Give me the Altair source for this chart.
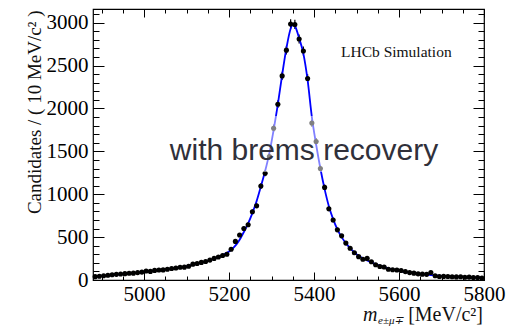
import altair as alt
import pandas as pd

# ---- data ----
bin_centers = list(range(4885, 5800, 10))
counts = [39, 44, 50, 56, 62, 66, 70, 74, 78, 80, 86, 92,
          105, 100, 112, 116, 118, 126, 134, 140, 148, 150,
          160, 185, 192, 205, 215, 232, 252, 268, 285, 300,
          358, 450, 525, 600, 645, 795, 865, 1095, 1245, 1440,
          1770, 2050, 2380, 2680, 2985, 2980, 2810, 2670, 2350, 1830,
          1615, 1300, 1080, 830, 700, 585, 515, 430, 370, 318,
          272, 242, 252, 213, 178, 158, 152, 125, 120, 117,
          110, 98, 86, 80, 72, 68, 66, 88, 50, 40,
          42, 40, 38, 36, 38, 32, 34, 30, 28, 22]

curve_m = [4885, 4905, 4925, 4945, 4965, 4985, 5005, 5025, 5045, 5065, 5085, 5105,
           5125, 5145, 5165, 5185, 5205, 5215, 5225, 5235, 5245, 5255, 5265, 5275,
           5285, 5295, 5305, 5315, 5325, 5335, 5345, 5350, 5355, 5365, 5375, 5385,
           5395, 5405, 5415, 5425, 5435, 5445, 5455, 5465, 5475, 5485, 5495, 5505,
           5525, 5545, 5565, 5585, 5605, 5625, 5645, 5665, 5685, 5705, 5725, 5745,
           5765, 5785, 5795]
curve_n = [40, 48, 57, 66, 76, 87, 99, 110, 120, 133, 147, 165,
           188, 215, 248, 290, 350, 400, 470, 560, 660, 780, 920, 1090,
           1270, 1480, 1750, 2050, 2390, 2700, 2930, 2975, 2960, 2820, 2640, 2330,
           1900, 1580, 1300, 1060, 860, 710, 590, 500, 430, 372, 322, 282,
           228, 185, 150, 122, 102, 86, 73, 62, 53, 46, 40, 35,
           31, 28, 26]

x_major = [5000, 5200, 5400, 5600, 5800]
x_minor = list(range(4900, 5801, 50))
y_major = [0, 500, 1000, 1500, 2000, 2500, 3000]
y_minor = list(range(0, 3101, 100))

X_DOMAIN = [4880, 5800]
Y_DOMAIN = [0, 3160]
W, H = 391, 271
SERIF = "Liberation Serif"

pts = pd.DataFrame({"m": bin_centers, "n": counts})
crv = pd.DataFrame({"m": curve_m, "n": curve_n})


def xs():
    return alt.Scale(domain=X_DOMAIN, nice=False, zero=False)


def ys():
    return alt.Scale(domain=Y_DOMAIN, nice=False)


main_x_axis = alt.Axis(values=x_major, format="d", labelFont=SERIF, labelFontSize=21,
                       labelColor="#000", tickSize=0, labelPadding=3, labelFlush=False,
                       domain=False, grid=False, title=None)
main_y_axis = alt.Axis(values=y_major, format="d", labelFont=SERIF, labelFontSize=21,
                       labelColor="#000", tickSize=0, labelPadding=5, domain=False,
                       grid=False, title="Candidates / ( 10 MeV/c² )", titleFont=SERIF,
                       titleFontSize=19, titleFontWeight="normal", titleColor="#111",
                       titleAngle=-90, titleAlign="right", titleBaseline="middle",
                       titleX=-59, titleY=1)

base = alt.Chart(pts).transform_calculate(
    lo="datum.n - sqrt(datum.n)", hi="datum.n + sqrt(datum.n)",
    ml="datum.m - 5", mh="datum.m + 5")

vbars = base.mark_rule(color="black", strokeWidth=1.2).encode(
    x=alt.X("m:Q", scale=xs(), axis=main_x_axis),
    y=alt.Y("lo:Q", scale=ys(), axis=main_y_axis),
    y2="hi:Q")
hbars = base.mark_rule(color="black", strokeWidth=1.2).encode(
    x=alt.X("ml:Q", scale=xs()), x2="mh:Q",
    y=alt.Y("n:Q", scale=ys()))
curve = alt.Chart(crv).mark_line(color="#0000ff", strokeWidth=1.8, interpolate="monotone").encode(
    x=alt.X("m:Q", scale=xs()), y=alt.Y("n:Q", scale=ys()))
dots = alt.Chart(pts).mark_circle(color="black", opacity=1, size=26).encode(
    x=alt.X("m:Q", scale=xs()), y=alt.Y("n:Q", scale=ys()))

veil = alt.Chart(pd.DataFrame({"a": [0]})).mark_rect(color="white", opacity=0.5).encode(
    x=alt.value(70), x2=alt.value(353), y=alt.value(107), y2=alt.value(163))

label_big = alt.Chart(pd.DataFrame({"t": ["with brems recovery"]})).mark_text(
    font="Liberation Sans", fontSize=30, color="#30303a", align="center",
    baseline="alphabetic").encode(text="t:N", x=alt.value(211), y=alt.value(151))

lhcb = alt.Chart(pd.DataFrame({"t": ["LHCb Simulation"]})).mark_text(
    font=SERIF, fontSize=15.5, color="#111", align="left",
    baseline="alphabetic").encode(text="t:N", x=alt.value(248), y=alt.value(48))

xt_m = alt.Chart(pd.DataFrame({"t": ["m"]})).mark_text(
    font=SERIF, fontSize=20, fontStyle="italic", color="#111", align="left",
    baseline="alphabetic").encode(text="t:N", x=alt.value(270), y=alt.value(312))
xt_sub = alt.Chart(pd.DataFrame({"t": ["e±μ∓"]})).mark_text(
    font=SERIF, fontSize=11, fontStyle="italic", color="#111", align="left",
    baseline="alphabetic").encode(text="t:N", x=alt.value(285), y=alt.value(315))
xt_unit = alt.Chart(pd.DataFrame({"t": ["[MeV/c²]"]})).mark_text(
    font=SERIF, fontSize=20, color="#111", align="right",
    baseline="alphabetic").encode(text="t:N", x=alt.value(390), y=alt.value(312))

data_layer = alt.layer(vbars, hbars, curve, dots, veil, label_big, lhcb, xt_m, xt_sub, xt_unit)


def tick_layer(x_orient, y_orient, xv, yv, xlen, ylen):
    xa = alt.Axis(orient=x_orient, offset=-H, values=xv, tickSize=xlen, labels=False,
                  domain=False, grid=False, title=None, tickColor="black", tickWidth=1)
    ya = alt.Axis(orient=y_orient, offset=-W, values=yv, tickSize=ylen, labels=False,
                  domain=False, grid=False, title=None, tickColor="black", tickWidth=1)
    return alt.Chart(pts).mark_point(opacity=0).encode(
        x=alt.X("m:Q", scale=xs(), axis=xa), y=alt.Y("n:Q", scale=ys(), axis=ya))


t1 = tick_layer("top", "right", x_major, y_major, 8, 11)
t2 = tick_layer("top", "right", x_minor, y_minor, 4, 6)
t3 = tick_layer("bottom", "left", x_major, y_major, 8, 11)
t4 = tick_layer("bottom", "left", x_minor, y_minor, 4, 6)

chart = alt.layer(data_layer, t1, t2, t3, t4).resolve_scale(
    x="independent", y="independent").properties(
    width=W, height=H,
    autosize=alt.AutoSizeParams(type="none"),
    padding={"left": 93, "top": 9, "right": 34, "bottom": 46},
    background="white",
).configure_view(stroke="black", strokeWidth=1.2).configure_axis(grid=False)

chart.save("out.html", embed_options={"renderer": "svg", "actions": False})
